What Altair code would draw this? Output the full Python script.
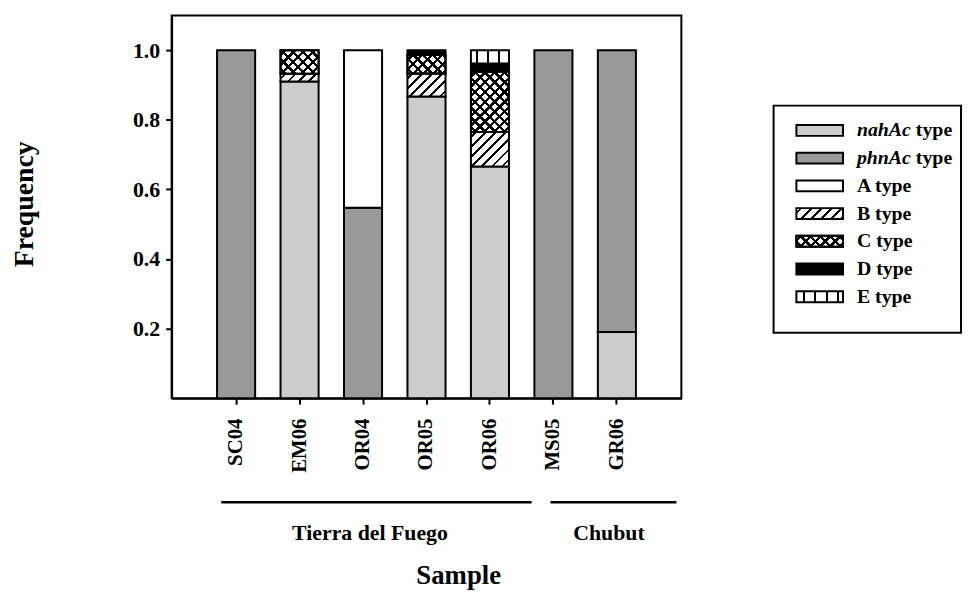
import math
import altair as alt
import pandas as pd

# ---------------- data ----------------
samples = ["SC04", "EM06", "OR04", "OR05", "OR06", "MS05", "GR06"]
type_keys = ["nahAc", "phnAc", "A", "B", "C", "D", "E"]
nahAc = [0.0, 0.910, 0.0, 0.867, 0.666, 0.0, 0.190]
phnAc = [1.0, 0.0, 0.547, 0.0, 0.0, 1.0, 0.810]
typeA = [0.0, 0.0, 0.453, 0.0, 0.0, 0.0, 0.0]
typeB = [0.0, 0.022, 0.0, 0.066, 0.099, 0.0, 0.0]
typeC = [0.0, 0.068, 0.0, 0.053, 0.173, 0.0, 0.0]
typeD = [0.0, 0.0, 0.0, 0.014, 0.024, 0.0, 0.0]
typeE = [0.0, 0.0, 0.0, 0.0, 0.038, 0.0, 0.0]
y_ticks = [0.2, 0.4, 0.6, 0.8, 1.0]
groups = ["Tierra del Fuego", "Chubut"]
group_first = ["SC04", "MS05"]
group_last = ["OR06", "GR06"]
group_anchor = ["OR04", "GR06"]

series = {"nahAc": nahAc, "phnAc": phnAc, "A": typeA, "B": typeB,
          "C": typeC, "D": typeD, "E": typeE}

rows = []
for i, s in enumerate(samples):
    for k, t in enumerate(type_keys):
        v = series[t][i]
        if v > 0:
            rows.append({"sample": s, "type": t, "order": k, "freq": v})
df = pd.DataFrame(rows)

# ---------------- style / layout ----------------
FONT = "Liberation Serif"
W, H = 514, 386
YMAX = 1.1
PAD_IN, PAD_OUT = 0.4, 0.716
STEP = W / (len(samples) - PAD_IN + 2 * PAD_OUT)
BW = STEP * (1 - PAD_IN)
PX_PER_UNIT = H / YMAX

solid_types = ["nahAc", "phnAc", "A", "D"]
solid_colors = ["#cccccc", "#999999", "#ffffff", "#000000"]


def stops_along(L, period, thick, first, fg, bg):
    st = [{"offset": 0, "color": bg}]
    c = first
    while c - thick / 2 < L:
        a = max(0.0, (c - thick / 2) / L)
        b = min(1.0, (c + thick / 2) / L)
        if b > 0:
            a, b = round(a, 4), round(b, 4)
            st += [{"offset": a, "color": bg}, {"offset": a, "color": fg},
                   {"offset": b, "color": fg}, {"offset": b, "color": bg}]
        c += period
    st.append({"offset": 1, "color": bg})
    return st


def diag(w, h, up=True, period=7.2, thick=2.2, fg="black", bg="white"):
    L = w + h
    k = (w + h) / (w * w + h * h)
    r2 = math.sqrt(2)
    st = stops_along(L, period * r2, thick * r2, period * r2 / 2, fg, bg)
    if up:
        return {"gradient": "linear", "x1": 0, "y1": 0,
                "x2": round(k * w, 4), "y2": round(k * h, 4), "stops": st}
    return {"gradient": "linear", "x1": 0, "y1": 1,
            "x2": round(k * w, 4), "y2": round(1 - k * h, 4), "stops": st}


def vert(w, period=10.8, thick=2.0, first=6.5):
    return {"gradient": "linear", "x1": 0, "y1": 0, "x2": 1, "y2": 0,
            "stops": stops_along(w, period, thick, first, "black", "white")}


def fills_for(t, w, h):
    """list of fills layered for a hatched type"""
    if t == "B":
        return [diag(w, h, True, 7.2, 2.0)]
    if t == "C":
        return [diag(w, h, True, 7.0, 2.4),
                diag(w, h, False, 7.0, 2.4, "black", "rgba(0,0,0,0)")]
    if t == "E":
        return [vert(w)]
    return []


xscale = alt.Scale(domain=samples, paddingInner=PAD_IN, paddingOuter=PAD_OUT)
yscale = alt.Scale(domain=[0, YMAX], nice=False, zero=True)

x_axis = alt.Axis(title="Sample", labelAngle=270, labelAlign="right",
                  labelBaseline="middle", tickSize=6, labelPadding=14,
                  labelFontSize=21, titleFontSize=27, titleX=289, titleY=179,
                  titleBaseline="middle", titleAlign="center")
y_axis = alt.Axis(title="Frequency", values=y_ticks, format=".1f", tickSize=6,
                  labelPadding=6, labelFontSize=22, grid=False,
                  titleFontSize=28, titleAngle=270, titleX=-148, titleY=190,
                  titleAlign="center", titleBaseline="middle")

x_enc = alt.X("sample:N", scale=xscale, axis=x_axis, sort=samples)
y_enc = alt.Y("y0:Q", scale=yscale, axis=y_axis)
y2_enc = alt.Y2("y1:Q")

base = alt.Chart(df).transform_stack(
    stack="freq", groupby=["sample"], as_=["y0", "y1"],
    sort=[alt.SortField("order", order="ascending")])

layers = []
solid = base.transform_filter(
    alt.FieldOneOfPredicate(field="type", oneOf=solid_types)
).mark_bar(stroke="black", strokeWidth=2).encode(
    x=x_enc, y=y_enc, y2=y2_enc,
    fill=alt.Fill("type:N", scale=alt.Scale(domain=solid_types, range=solid_colors),
                  legend=None))
layers.append(solid)

for i, s in enumerate(samples):
    for t in ["B", "C", "E"]:
        v = series[t][i]
        if v <= 0:
            continue
        h = v * PX_PER_UNIT
        for f in fills_for(t, BW, h):
            layers.append(
                base.transform_filter(
                    f"datum.sample === '{s}' && datum.type === '{t}'"
                ).mark_bar(fill=f, stroke="black", strokeWidth=2).encode(
                    x=x_enc, y=y_enc, y2=y2_enc))

gdf = pd.DataFrame({"group": groups, "first": group_first,
                    "last": group_last, "anchor": group_anchor})
rule_offsets = {"Tierra del Fuego": (-15, 42), "Chubut": (-3, 60)}
text_dx = {"Tierra del Fuego": 7, "Chubut": -8}
for g in groups:
    o1, o2 = rule_offsets[g]
    layers.append(
        alt.Chart(gdf).transform_filter(alt.datum.group == g).mark_rule(
            color="black", strokeWidth=2.5, xOffset=o1, x2Offset=o2
        ).encode(
            x=alt.X("first:N", scale=xscale, axis=x_axis, sort=samples, bandPosition=0.5),
            x2=alt.X2("last:N", bandPosition=0.5),
            y=alt.value(491)))
    layers.append(
        alt.Chart(gdf).transform_filter(alt.datum.group == g).mark_text(
            font=FONT, fontSize=22, fontWeight="bold", color="black",
            baseline="middle", align="center", dx=text_dx[g]
        ).encode(
            x=alt.X("anchor:N", scale=xscale, axis=x_axis, sort=samples, bandPosition=0.5),
            y=alt.value(522), text="group:N"))

main = alt.layer(*layers).properties(width=W, height=H)

# ---------------- legend panel ----------------
leg_labels_italic = ["nahAc", "phnAc", "", "", "", "", ""]
leg_labels_plain = ["", "", "A type", "B type", "C type", "D type", "E type"]
ldf = pd.DataFrame({"type": type_keys, "row": list(range(len(type_keys))),
                    "italic": leg_labels_italic, "plain": leg_labels_plain})
LW = 189
BOX_TOP, BOX_BOTTOM = 91, 320
SW_X1, SW_X2, SW_H = 23, 70, 11
LFS = 20
TYPE_X = 84 + (2.723 + 0.25) * LFS
ROW_STEP, ROW0 = 27.95, 116.0
lscale = alt.Scale(domain=[-ROW0 / ROW_STEP, (H - ROW0) / ROW_STEP],
                   reverse=True, nice=False, zero=False)
ly = alt.Y("row:Q", scale=lscale, axis=None)
ly2 = alt.Y2("row:Q")
lbase = alt.Chart(ldf)
llayers = [
    alt.Chart(pd.DataFrame({"k": [0]})).mark_rect(
        fill="transparent", stroke="black", strokeWidth=2
    ).encode(x=alt.value(0), x2=alt.value(LW), y=alt.value(BOX_TOP),
             y2=alt.value(BOX_BOTTOM)),
    lbase.transform_filter(alt.FieldOneOfPredicate(field="type", oneOf=solid_types))
    .mark_rect(stroke="black", strokeWidth=2, yOffset=-SW_H / 2, y2Offset=SW_H / 2)
    .encode(y=ly, y2=ly2, x=alt.value(SW_X1), x2=alt.value(SW_X2),
            fill=alt.Fill("type:N", scale=alt.Scale(domain=solid_types, range=solid_colors),
                          legend=None))
]
for t in ["B", "C", "E"]:
    if t == "E":
        fl = [vert(SW_X2 - SW_X1, period=11.5, thick=2.0, first=7.5)]
    else:
        fl = fills_for(t, SW_X2 - SW_X1, SW_H)
    for f in fl:
        llayers.append(
            lbase.transform_filter(alt.datum.type == t)
            .mark_rect(fill=f, stroke="black", strokeWidth=2,
                       yOffset=-SW_H / 2, y2Offset=SW_H / 2)
            .encode(y=ly, y2=ly2, x=alt.value(SW_X1), x2=alt.value(SW_X2)))
llayers.append(
    lbase.transform_filter(alt.datum.italic != "").mark_text(
        font=FONT, fontSize=LFS, fontWeight="bold", fontStyle="italic",
        color="black", align="left", baseline="middle"
    ).encode(y=ly, x=alt.value(84), text="italic:N"))
llayers.append(
    lbase.transform_filter(alt.datum.italic != "").mark_text(
        font=FONT, fontSize=LFS, fontWeight="bold", color="black",
        align="left", baseline="middle"
    ).encode(y=ly, x=alt.value(TYPE_X), text=alt.value("type")))
llayers.append(
    lbase.transform_filter(alt.datum.plain != "").mark_text(
        font=FONT, fontSize=LFS, fontWeight="bold", color="black",
        align="left", baseline="middle"
    ).encode(y=ly, x=alt.value(84), text="plain:N"))

legend = alt.layer(*llayers).properties(
    width=LW, height=H, view=alt.ViewBackground(stroke="transparent"))

chart = alt.hconcat(main, legend, spacing=90).properties(
    padding={"left": 2, "top": 4, "right": 0, "bottom": 0}
).configure(font=FONT).configure_view(
    stroke="black", strokeWidth=2
).configure_axis(
    domainColor="black", domainWidth=2, tickColor="black", tickWidth=2,
    labelColor="black", titleColor="black", labelFont=FONT, titleFont=FONT,
    labelFontWeight="bold", titleFontWeight="bold"
)

chart.save("out.html", embed_options={"renderer": "svg", "actions": False})
